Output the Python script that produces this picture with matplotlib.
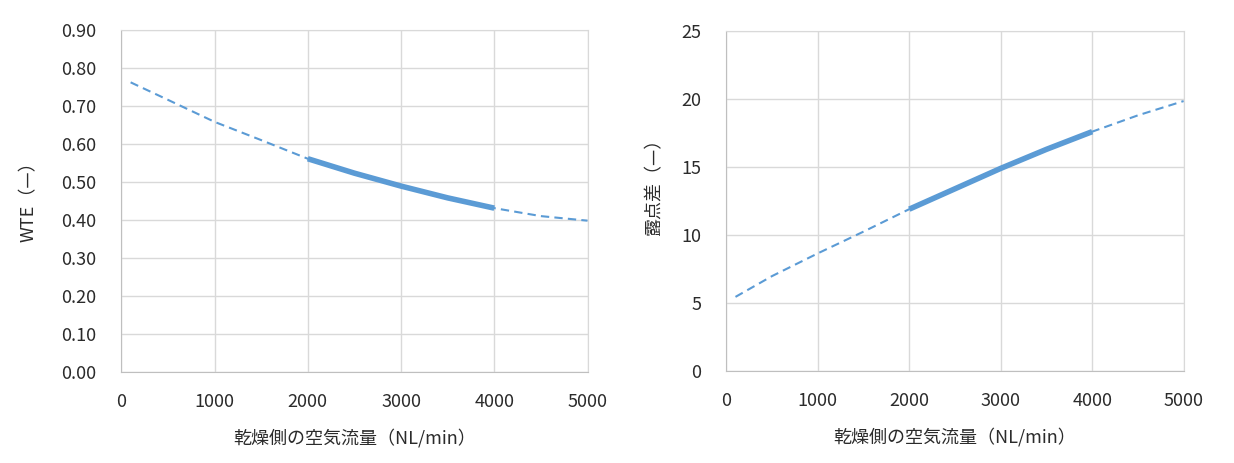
import matplotlib
matplotlib.use("Agg")
import matplotlib.pyplot as plt
from matplotlib.ticker import FormatStrFormatter

plt.rcParams['font.family'] = ['Noto Sans CJK JP', 'DejaVu Sans']

# 乾燥側の空気流量 (NL/min)
flow = [100, 500, 1000, 1500, 2000, 2500, 3000, 3500, 4000, 4500, 5000]
# 計算範囲 (実線部分)
flow_solid = [2000, 2500, 3000, 3500, 4000]

wte = [0.763, 0.717, 0.659, 0.611, 0.562, 0.524, 0.490, 0.459, 0.432, 0.411, 0.399]
wte_solid = [0.562, 0.524, 0.490, 0.459, 0.432]

dew = [5.45, 6.98, 8.65, 10.25, 11.9, 13.4, 14.9, 16.3, 17.6, 18.8, 19.85]
dew_solid = [11.9, 13.4, 14.9, 16.3, 17.6]

xticks = [0, 1000, 2000, 3000, 4000, 5000]
wte_ticks = [0.0, 0.1, 0.2, 0.3, 0.4, 0.5, 0.6, 0.7, 0.8, 0.9]
dew_ticks = [0, 5, 10, 15, 20, 25]

blue = '#5B9BD5'
txt = '#2b2b2b'
grid_c = '#D9D9D9'

fig = plt.figure(figsize=(12.34, 4.63), dpi=100)
ax1 = fig.add_axes([0.0983, 0.1959, 0.3778, 0.7387])
ax2 = fig.add_axes([0.5886, 0.1987, 0.3706, 0.7343])


def style(ax, yticks, fmt):
    ax.set_xlim(0, 5000)
    ax.set_ylim(yticks[0], yticks[-1])
    ax.set_xticks(xticks)
    ax.set_yticks(yticks)
    ax.yaxis.set_major_formatter(FormatStrFormatter(fmt))
    ax.grid(True, color=grid_c, linewidth=1)
    ax.set_axisbelow(True)
    for s in ['top', 'right']:
        ax.spines[s].set_color(grid_c)
    for s in ['left', 'bottom']:
        ax.spines[s].set_color('#BFBFBF')
    ax.tick_params(axis='x', length=0, pad=15, labelsize=13, labelcolor=txt)
    ax.tick_params(axis='y', length=0, pad=18, labelsize=13, labelcolor=txt)


ax1.plot(flow, wte, color=blue, linewidth=1.5, linestyle=(0, (4, 2.5)))
ax1.plot(flow_solid, wte_solid, color=blue, linewidth=4, solid_capstyle='butt')
style(ax1, wte_ticks, '%.2f')
ax1.set_xlabel('乾燥側の空気流量（NL/min）', fontsize=13, color=txt)
ax1.set_ylabel('WTE（—）', fontsize=13, color=txt)
ax1.xaxis.set_label_coords(0.5, -0.165)
ax1.yaxis.set_label_coords(-0.179, 0.513)

ax2.plot(flow, dew, color=blue, linewidth=1.5, linestyle=(0, (4, 2.5)))
ax2.plot(flow_solid, dew_solid, color=blue, linewidth=4, solid_capstyle='butt')
style(ax2, dew_ticks, '%d')
ax2.set_xlabel('乾燥側の空気流量（NL/min）', fontsize=13, color=txt)
ax2.set_ylabel('露点差（—）', fontsize=13, color=txt)
ax2.xaxis.set_label_coords(0.5, -0.165)
ax2.yaxis.set_label_coords(-0.138, 0.553)

fig.savefig('out.png', dpi=100)
